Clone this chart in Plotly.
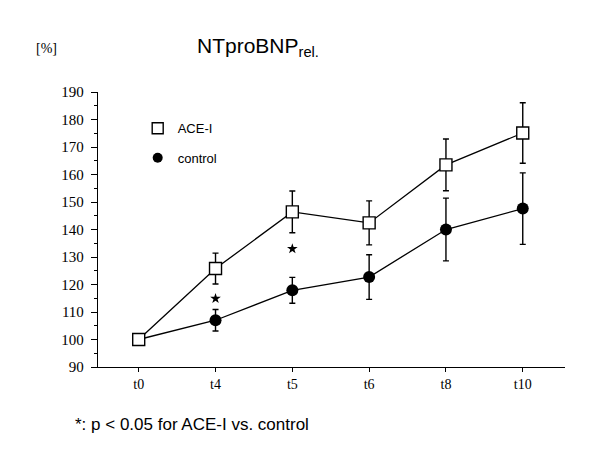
import plotly.graph_objects as go

times = ["t0", "t4", "t5", "t6", "t8", "t10"]
acei = [100, 125.8, 146.4, 142.4, 163.5, 175.1]
acei_err = [0, 5.6, 7.6, 8.0, 9.4, 11.0]
control = [100, 107.0, 117.9, 122.7, 140.0, 147.6]
control_err = [0, 3.9, 4.7, 8.1, 11.4, 13.0]
sig_times = ["t4", "t5"]
sig_y = [114.9, 133.0]

SERIF = "Liberation Serif, Times New Roman, serif"
SANS = "Liberation Sans, Arial, sans-serif"

fig = go.Figure()

fig.add_trace(go.Scatter(
    x=times, y=control, mode="lines+markers", showlegend=False,
    line=dict(color="black", width=1.3),
    marker=dict(symbol="circle", size=12, color="black"),
    error_y=dict(type="data", array=control_err, color="black", thickness=1.4, width=3),
))
fig.add_trace(go.Scatter(
    x=times, y=acei, mode="lines+markers", showlegend=False,
    line=dict(color="black", width=1.3),
    marker=dict(symbol="square", size=12, color="white", line=dict(color="black", width=1.4)),
    error_y=dict(type="data", array=acei_err, color="black", thickness=1.4, width=3),
))
fig.add_trace(go.Scatter(
    x=sig_times, y=sig_y, mode="markers", showlegend=False,
    marker=dict(symbol="star", size=8, color="black"),
))

# legend entries
fig.add_trace(go.Scatter(
    x=[None], y=[None], mode="markers", name="ACE-I", legend="legend",
    marker=dict(symbol="square", size=11, color="white", line=dict(color="black", width=1.4)),
))
fig.add_trace(go.Scatter(
    x=[None], y=[None], mode="markers", name="control", legend="legend2",
    marker=dict(symbol="circle", size=10, color="black"),
))

fig.update_layout(
    width=600, height=468,
    margin=dict(l=90, r=43, t=84, b=109),
    paper_bgcolor="white", plot_bgcolor="white",
    font=dict(family=SERIF, color="black"),
    legend=dict(x=0.085, y=0.868, xanchor="left", yanchor="middle",
                bgcolor="rgba(0,0,0,0)", font=dict(family=SANS, size=13)),
    legend2=dict(x=0.085, y=0.761, xanchor="left", yanchor="middle",
                 bgcolor="rgba(0,0,0,0)", font=dict(family=SANS, size=13)),
    xaxis=dict(
        type="category", range=[-0.53, 5.55],
        showline=True, linecolor="black", linewidth=1.3,
        ticks="outside", ticklen=4, tickcolor="black", tickwidth=1,
        showgrid=False, zeroline=False,
        tickfont=dict(family=SERIF, size=14),
    ),
    yaxis=dict(
        range=[90, 190], dtick=10, tick0=90,
        showline=True, linecolor="black", linewidth=1.3,
        ticks="outside", ticklen=6, tickcolor="black", tickwidth=1.3,
        ticklabelstandoff=4,
        minor=dict(dtick=5, ticks="outside", ticklen=3, tickcolor="black", tickwidth=1),
        showgrid=False, zeroline=False,
        tickfont=dict(family=SERIF, size=15),
    ),
    annotations=[
        dict(text="NTproBNP<sub>rel.</sub>", xref="paper", yref="paper",
             x=(195 - 98) / 467, y=1 + (92 - 47) / 275, xanchor="left", yanchor="middle",
             showarrow=False, font=dict(family=SANS, size=21)),
        dict(text="[%]", xref="paper", yref="paper",
             x=(34 - 98) / 467, y=1 + (92 - 48) / 275, xanchor="left", yanchor="middle",
             showarrow=False, font=dict(family=SERIF, size=14)),
        dict(text="*: p < 0.05 for ACE-I vs. control", xref="paper", yref="paper",
             x=(73 - 98) / 467, y=-(424 - 367) / 275, xanchor="left", yanchor="middle",
             showarrow=False, font=dict(family=SANS, size=17)),
    ],
)

fig.write_html("out.html")
